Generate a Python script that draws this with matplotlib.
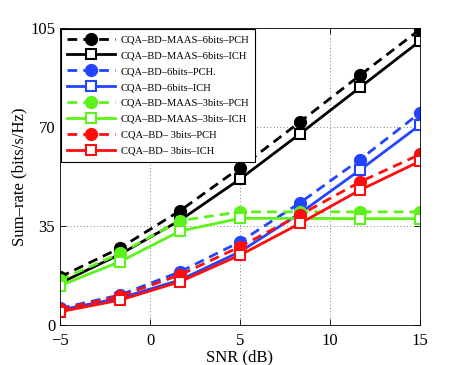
import matplotlib
matplotlib.use("Agg")
import matplotlib.pyplot as plt

plt.rcParams.update({
    "font.family": "serif",
    "font.serif": ["Liberation Serif", "DejaVu Serif"],
})

# ── Data ──
snr = [-5, -5 + 20 / 6, -5 + 40 / 6, 5, 5 + 20 / 6, 5 + 40 / 6, 15]

maas6_pch = [17.0, 27.2, 40.4, 55.6, 71.8, 88.3, 104.5]
maas6_ich = [14.8, 25.0, 37.0, 51.6, 67.6, 84.0, 100.4]
bd6_pch = [5.9, 10.6, 18.8, 29.4, 43.2, 58.5, 75.0]
bd6_ich = [5.3, 9.5, 15.9, 25.9, 39.5, 54.8, 70.7]
maas3_pch = [15.9, 25.3, 36.9, 40.0, 40.0, 40.0, 40.0]
maas3_ich = [13.9, 22.4, 33.2, 37.7, 37.7, 37.6, 37.6]
bd3_pch = [5.5, 10.2, 17.7, 27.7, 38.9, 50.6, 60.3]
bd3_ich = [4.7, 8.8, 15.3, 24.7, 35.9, 47.7, 57.9]

labels = [
    "CQA\u2013BD\u2013MAAS\u20136bits\u2013PCH",
    "CQA\u2013BD\u2013MAAS\u20136bits\u2013ICH",
    "CQA\u2013BD\u20136bits\u2013PCH.",
    "CQA\u2013BD\u20136bits\u2013ICH",
    "CQA\u2013BD\u2013MAAS\u20133bits\u2013PCH",
    "CQA\u2013BD\u2013MAAS\u20133bits\u2013ICH",
    "CQA\u2013BD\u2013 3bits\u2013PCH",
    "CQA\u2013BD\u2013 3bits\u2013ICH",
]

BLACK = "#000000"
BLUE = "#2244ff"
GREEN = "#5cf21a"
RED = "#ff0d0d"

series = [
    (maas6_pch, BLACK, "pch"),
    (maas6_ich, BLACK, "ich"),
    (bd6_pch, BLUE, "pch"),
    (bd6_ich, BLUE, "ich"),
    (maas3_pch, GREEN, "pch"),
    (maas3_ich, GREEN, "ich"),
    (bd3_pch, RED, "pch"),
    (bd3_ich, RED, "ich"),
]

fig = plt.figure(figsize=(4.63, 3.65), dpi=100)
ax = fig.add_axes([0.1296, 0.1096, 0.7775, 0.8137])

for (vals, col, kind), lab in zip(series, labels):
    if kind == "pch":
        ax.plot(snr, vals, color=col, linestyle=(0, (3.5, 2.2)), linewidth=2.0,
                marker="o", markersize=8.5, markerfacecolor=col, markeredgecolor=col,
                label=lab)
    else:
        ax.plot(snr, vals, color=col, linestyle="-", linewidth=2.0,
                marker="s", markersize=7, markerfacecolor="white",
                markeredgecolor=col, markeredgewidth=1.5, label=lab)

ax.set_xlim(-5, 15)
ax.set_ylim(0, 105)
ax.set_xticks([-5, 0, 5, 10, 15])
ax.set_xticklabels(["\u22125", "0", "5", "10", "15"])
ax.set_yticks([0, 35, 70, 105])
ax.tick_params(axis="both", labelsize=12, direction="in", length=4, width=0.6,
               top=True, right=True)
ax.tick_params(axis="x", pad=6)
ax.grid(True, linestyle=(0, (1, 3)), color="#555555", linewidth=0.6)
for sp in ax.spines.values():
    sp.set_linewidth(0.6)

ax.set_xlabel("SNR (dB)", fontsize=12, labelpad=0)
ax.set_ylabel("Sum\u2013rate (bits/s/Hz)", fontsize=12, labelpad=2)

leg = ax.legend(loc="upper left", fontsize=7.6, handlelength=4.6, handletextpad=0.5,
                borderaxespad=0.1, borderpad=0.55, labelspacing=0.62,
                fancybox=False, framealpha=1, edgecolor="black")
leg.get_frame().set_linewidth(0.8)

fig.savefig("out.png", dpi=100, facecolor="white")
plt.close(fig)
